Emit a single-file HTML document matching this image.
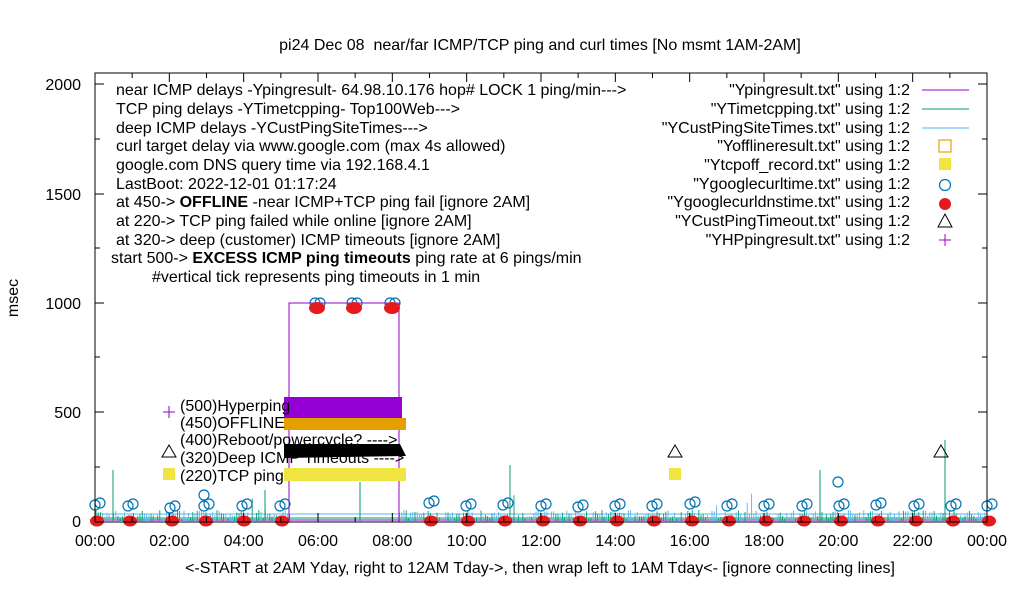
<!DOCTYPE html>
<html><head><meta charset="utf-8"><style>
html,body{margin:0;padding:0;background:#fff;}
svg{display:block;font-family:"Liberation Sans",sans-serif;}
</style></head><body>
<svg id="s" width="1020" height="600" viewBox="0 0 1020 600" xmlns="http://www.w3.org/2000/svg">
<rect width="1020" height="600" fill="#fff"/>
<text x="540" y="50" font-size="16" text-anchor="middle" xml:space="preserve">pi24 Dec 08  near/far ICMP/TCP ping and curl times [No msmt 1AM-2AM]</text>
<g id="noise"></g>
<polyline points="289,522 289,303 399,303 399,522" fill="none" stroke="#9400d3" stroke-width="1"/>
<rect x="284" y="397" width="118" height="22" fill="#9400d3"/>
<rect x="284" y="418" width="122" height="12" fill="#e69f00"/>
<polygon points="284,444 400,444 406,456 284,458" fill="#000"/>
<rect x="284" y="468" width="122" height="13" fill="#f0e442"/>
<g id="marks"></g>
<g font-size="16">
<text x="180" y="411">(500)Hyperping</text>
<text x="180" y="428">(450)OFFLINE</text>
<text x="180" y="445">(400)Reboot/powercycle? ----&gt;</text>
<text x="180" y="463">(320)Deep ICMP Timeouts ----&gt;</text>
<text x="180" y="481">(220)TCP ping</text>
</g>
<path d="M163,412h12M169,406v12" stroke="#9400d3" stroke-width="1"/>
<polygon points="169,445 176,457 162,457" fill="none" stroke="#000"/>
<rect x="163" y="468" width="12" height="12" fill="#f0e442"/>
<polygon points="675,445 682,457 668,457" fill="none" stroke="#000"/>
<rect x="669" y="468" width="12" height="12" fill="#f0e442"/>
<polygon points="941,445 948,457 934,457" fill="none" stroke="#000"/>
<circle cx="838" cy="482" r="5" fill="none" stroke="#0072b2" stroke-width="1.2"/>
<g font-size="16" xml:space="preserve">
<text x="116" y="95">near ICMP delays -Ypingresult- 64.98.10.176 hop# LOCK 1 ping/min---&gt;</text>
<text x="116" y="114">TCP ping delays -YTimetcpping- Top100Web---&gt;</text>
<text x="116" y="133">deep ICMP delays -YCustPingSiteTimes---&gt;</text>
<text x="116" y="151">curl target delay via www.google.com (max 4s allowed)</text>
<text x="116" y="170">google.com DNS query time via 192.168.4.1</text>
<text x="116" y="189">LastBoot: 2022-12-01 01:17:24</text>
<text x="116" y="207">at 450-&gt;  <tspan font-weight="bold">OFFLINE</tspan>  -near ICMP+TCP ping fail [ignore 2AM]</text>
<text x="116" y="226">at 220-&gt; TCP ping failed while online [ignore 2AM]</text>
<text x="116" y="245">at 320-&gt; deep (customer) ICMP timeouts [ignore 2AM]</text>
<text x="111" y="263">start 500-&gt;  <tspan font-weight="bold">EXCESS ICMP ping timeouts</tspan>  ping rate at 6 pings/min</text>
<text x="152" y="282">#vertical tick represents ping timeouts in 1 min</text>
</g>
<g font-size="16" text-anchor="end">
<text x="910" y="95">"Ypingresult.txt" using 1:2</text>
<text x="910" y="114">"YTimetcpping.txt" using 1:2</text>
<text x="910" y="133">"YCustPingSiteTimes.txt" using 1:2</text>
<text x="910" y="151">"Yofflineresult.txt" using 1:2</text>
<text x="910" y="170">"Ytcpoff_record.txt" using 1:2</text>
<text x="910" y="189">"Ygooglecurltime.txt" using 1:2</text>
<text x="910" y="207">"Ygooglecurldnstime.txt" using 1:2</text>
<text x="910" y="226">"YCustPingTimeout.txt" using 1:2</text>
<text x="910" y="245">"YHPpingresult.txt" using 1:2</text>
</g>
<path d="M922,90h47" stroke="#9400d3"/>
<path d="M922,109h47" stroke="#009e73"/>
<path d="M922,128h47" stroke="#56b4e9"/>
<rect x="939" y="140" width="12" height="12" fill="none" stroke="#e69f00" stroke-width="1.2"/>
<rect x="939" y="158" width="12" height="12" fill="#f0e442"/>
<circle cx="945" cy="185" r="5.5" fill="none" stroke="#0072b2" stroke-width="1.2"/>
<circle cx="945" cy="204" r="6" fill="#e41a1c"/>
<polygon points="945,214 952,227 938,227" fill="none" stroke="#000"/>
<path d="M939,240h12M945,234v12" stroke="#9400d3"/>
<rect x="95" y="73" width="892" height="449" fill="none" stroke="#000" stroke-width="1"/>
<g id="ticks" stroke="#000"></g>
<g font-size="16" text-anchor="end">
<text x="81" y="90">2000</text><text x="81" y="200">1500</text><text x="81" y="309">1000</text>
<text x="81" y="418">500</text><text x="81" y="527">0</text>
</g>
<g font-size="16" text-anchor="middle" id="xl"></g>
<text x="18" y="298" font-size="16" text-anchor="middle" transform="rotate(-90 18 298)">msec</text>
<text x="540" y="573" font-size="16" text-anchor="middle">&lt;-START at 2AM Yday, right to 12AM Tday-&gt;, then wrap left to 1AM Tday&lt;- [ignore connecting lines]</text>
</svg>
<script>
var NS="http://www.w3.org/2000/svg";
function el(p,t,a){var e=document.createElementNS(NS,t);for(var k in a)e.setAttribute(k,a[k]);p.appendChild(e);return e;}
var seed=7;function r(){seed=(seed*16807)%2147483647;return seed/2147483647;}
var L=95,R=987,hw=(R-L)/24;
var tk=document.getElementById('ticks'),xl=document.getElementById('xl');
for(var h=0;h<=24;h++){var x=L+h*hw;var len=(h%2==0)?9:5;
 el(tk,'line',{x1:x,y1:522,x2:x,y2:522-len});el(tk,'line',{x1:x,y1:73,x2:x,y2:73+len});
 if(h%2==0){var t=el(xl,'text',{x:x,y:546});t.textContent=(h%24<10?'0':'')+(h%24)+':00';}}
[84,194,303,412,522].forEach(function(y){el(tk,'line',{x1:95,y1:y,x2:104,y2:y});el(tk,'line',{x1:987,y1:y,x2:978,y2:y});});
[139,248,357,467].forEach(function(y){el(tk,'line',{x1:95,y1:y,x2:100,y2:y});el(tk,'line',{x1:987,y1:y,x2:982,y2:y});});
var n=document.getElementById('noise');
el(n,'line',{x1:95,y1:514,x2:987,y2:514,stroke:'#56b4e9'});
el(n,'line',{x1:95,y1:518,x2:987,y2:518,stroke:'#009e73'});
el(n,'line',{x1:95,y1:520,x2:987,y2:520,stroke:'#9400d3'});
for(var x=96;x<986;x+=2.2){if(x>290&&x<399)continue;
 var c=r()<0.5?'#009e73':'#56b4e9';var hgt=2+r()*9;if(r()<0.02)hgt=14+r()*14;
 el(n,'line',{x1:x,y1:521,x2:x,y2:521-hgt,stroke:c,'stroke-width':0.9});}
[[113,470],[510,465],[945,440],[820,470],[265,490],[360,482]].forEach(function(p){el(n,'line',{x1:p[0],y1:521,x2:p[0],y2:p[1],stroke:'#009e73'});});
var m=document.getElementById('marks');
var xs=[95,128,170,204,242,280,429,466,503,541,578,615,652,690,727,764,802,839,876,914,951,987];
var cy=[505,506,508,506,506,506,503,506,505,506,507,506,506,504,506,506,506,506,505,506,506,506];
xs.forEach(function(x,i){
 el(m,'circle',{cx:x,cy:cy[i],r:5,fill:'none',stroke:'#0072b2','stroke-width':1.2});
 el(m,'circle',{cx:x+5,cy:cy[i]-2,r:5,fill:'none',stroke:'#0072b2','stroke-width':1.2});
 el(m,'ellipse',{cx:x+2,cy:521,rx:7,ry:5.5,fill:'#e41a1c'});});
el(m,'circle',{cx:204,cy:495,r:5,fill:'none',stroke:'#0072b2','stroke-width':1.2});
[317,354,392].forEach(function(x){
 el(m,'circle',{cx:x-2,cy:303,r:5,fill:'none',stroke:'#0072b2','stroke-width':1.2});
 el(m,'circle',{cx:x+3,cy:303,r:5,fill:'none',stroke:'#0072b2','stroke-width':1.2});
 el(m,'ellipse',{cx:x,cy:308,rx:8,ry:6,fill:'#e41a1c'});});
</script>
</body></html>
